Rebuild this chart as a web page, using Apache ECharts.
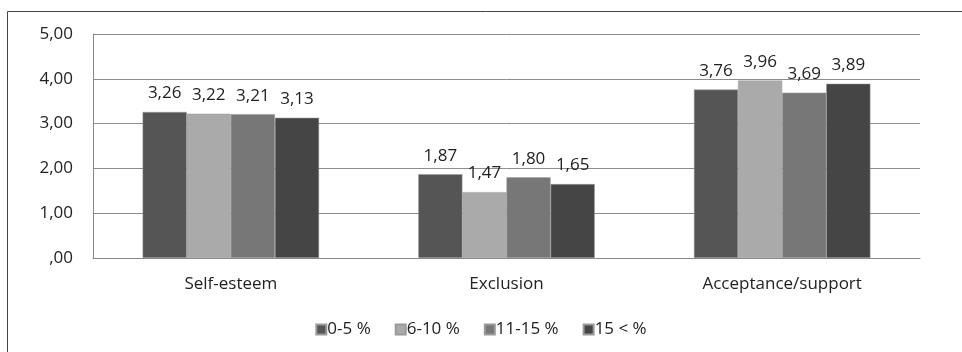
<!DOCTYPE html>
<html>
<head>
<meta charset="utf-8">
<script src="https://cdn.jsdelivr.net/npm/echarts@6/dist/echarts.min.js"></script>
<style>
  html, body { margin: 0; padding: 0; background: #fff; }
  #chart { width: 962px; height: 352px; }
</style>
</head>
<body>
<div id="chart"></div>
<script>
// Scale categories and mean scores per group
const categories = ['Self-esteem', 'Exclusion', 'Acceptance/support'];
const seriesNames = ['0-5 %', '6-10 %', '11-15 %', '15 < %'];
const group0to5 = [3.26, 1.87, 3.76];
const group6to10 = [3.22, 1.47, 3.96];
const group11to15 = [3.21, 1.80, 3.69];
const group15plus = [3.13, 1.65, 3.89];
const yTicks = [0, 1, 2, 3, 4, 5];

const seriesValues = [group0to5, group6to10, group11to15, group15plus];
const colors = ['#555555', '#aaaaaa', '#777777', '#454545'];
const font = '"Open Sans", "Noto Sans", sans-serif';

// Decimal comma, leading zero dropped for zero (",00")
function fmt(v) {
  const s = Number(v).toFixed(2).replace('.', ',');
  return s.startsWith('0,') ? s.slice(1) : s;
}

const chart = echarts.init(document.getElementById('chart'));
chart.setOption({
  animation: false,
  color: colors,
  graphic: [{
    type: 'rect',
    shape: { x: 7.5, y: 11.5, width: 1000, height: 400 },
    style: { fill: 'none', stroke: '#444', lineWidth: 1 },
    silent: true
  }],
  grid: { left: 93, right: 42, top: 34, bottom: 94, containLabel: false },
  legend: {
    data: seriesNames,
    left: 'center',
    top: 316,
    icon: 'rect',
    itemWidth: 10,
    itemHeight: 10,
    itemGap: 24,
    textStyle: { fontFamily: font, fontSize: 17, color: '#222', padding: [0, 0, 0, -4] }
  },
  xAxis: {
    type: 'category',
    data: categories,
    axisLine: { show: true, lineStyle: { color: '#888', width: 1 } },
    axisTick: { show: false },
    axisLabel: { fontFamily: font, fontSize: 17, color: '#222', margin: 18 }
  },
  yAxis: {
    type: 'value',
    min: yTicks[0],
    max: yTicks[yTicks.length - 1],
    interval: 1,
    axisLine: { show: true, lineStyle: { color: '#888', width: 1 } },
    axisTick: { show: false },
    splitLine: { lineStyle: { color: '#8c8c8c', width: 1 } },
    axisLabel: { fontFamily: font, fontSize: 17, color: '#222', margin: 20, formatter: fmt }
  },
  series: seriesNames.map((name, i) => ({
    name: name,
    type: 'bar',
    data: seriesValues[i],
    barGap: '0%',
    barCategoryGap: '36%',
    itemStyle: { color: colors[i], borderColor: '#9a9a9a', borderWidth: 0.5 },
    label: {
      show: true,
      position: 'top',
      distance: 10,
      fontFamily: font,
      fontSize: 17,
      color: '#222',
      formatter: p => fmt(p.value)
    }
  }))
});
</script>
</body>
</html>
